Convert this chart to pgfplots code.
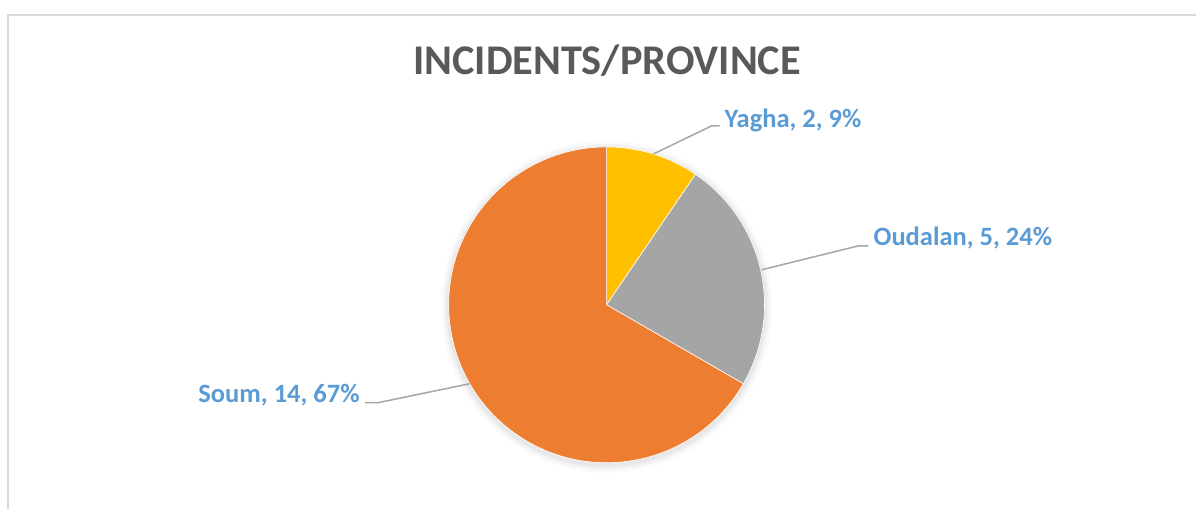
\documentclass[border=0pt]{standalone}
\usepackage{pgfplots}
\pgfplotsset{compat=1.18}
\usepackage{fontspec}
\setmainfont{Carlito}
\definecolor{cY}{HTML}{FFC000}
\definecolor{cO}{HTML}{A5A5A5}
\definecolor{cS}{HTML}{ED7D31}
\definecolor{lab}{HTML}{5B9BD5}
\definecolor{ttl}{HTML}{595959}
\definecolor{frm}{HTML}{D9D9D9}
\definecolor{lead}{HTML}{A6A6A6}
% data: Yagha 2, Oudalan 5, Soum 14
\def\vY{2}\def\vO{5}\def\vS{14}
\pgfmathsetmacro\tot{\vY+\vO+\vS}
\pgfmathsetmacro\aA{90}
\pgfmathsetmacro\aB{90-\vY/\tot*360}
\pgfmathsetmacro\aC{\aB-\vO/\tot*360}
\pgfmathsetmacro\aD{\aC-\vS/\tot*360}
\begin{document}
\begin{tikzpicture}
\begin{axis}[
  x=1pt, y=1pt, y dir=reverse,
  xmin=0, xmax=1197, ymin=0, ymax=509,
  hide axis, clip=false,
]
\fill[white] (axis cs:0,0) rectangle (axis cs:1197,509);
% frame
\draw[frm, line width=1.6pt] (axis cs:7.8,509) -- (axis cs:7.8,14.8) -- (axis cs:1197,14.8);
% title
\node[anchor=base, text=ttl, font=\fontsize{42.3}{50}\selectfont\bfseries] at (axis cs:607.5,75) {INCIDENTS/PROVINCE};
% soft shadow
\fill[black, opacity=0.02] (axis cs:607,307) circle[radius=166pt];
\fill[black, opacity=0.03] (axis cs:607,307) circle[radius=163pt];
\fill[black, opacity=0.04] (axis cs:607,307) circle[radius=160.5pt];
% slices
\fill[cY, draw=white, line width=0.6pt] (axis cs:607,305) -- ++(\aA:158pt) arc[start angle=\aA, end angle=\aB, radius=158pt] -- cycle;
\fill[cO, draw=white, line width=0.6pt] (axis cs:607,305) -- ++(\aB:158pt) arc[start angle=\aB, end angle=\aC, radius=158pt] -- cycle;
\fill[cS, draw=white, line width=0.6pt] (axis cs:607,305) -- ++(\aC:158pt) arc[start angle=\aC, end angle=\aD, radius=158pt] -- cycle;
% leader lines
\draw[lead, line width=1.5pt] (axis cs:654,154) -- (axis cs:712,126) -- (axis cs:720,126);
\draw[lead, line width=1.5pt] (axis cs:762,270) -- (axis cs:859,246) -- (axis cs:869,246);
\draw[lead, line width=1.5pt] (axis cs:470,384) -- (axis cs:378,403) -- (axis cs:365,403);
% labels
\node[anchor=base west, inner sep=0pt, text=lab, font=\fontsize{26.5}{32}\selectfont\bfseries] at (axis cs:725,128) {Yagha, 2, 9\%};
\node[anchor=base west, inner sep=0pt, text=lab, font=\fontsize{26.5}{32}\selectfont\bfseries] at (axis cs:874,246) {Oudalan, 5, 24\%};
\node[anchor=base east, inner sep=0pt, text=lab, font=\fontsize{26.5}{32}\selectfont\bfseries] at (axis cs:360,403) {Soum, 14, 67\%};
\end{axis}
\end{tikzpicture}
\end{document}
